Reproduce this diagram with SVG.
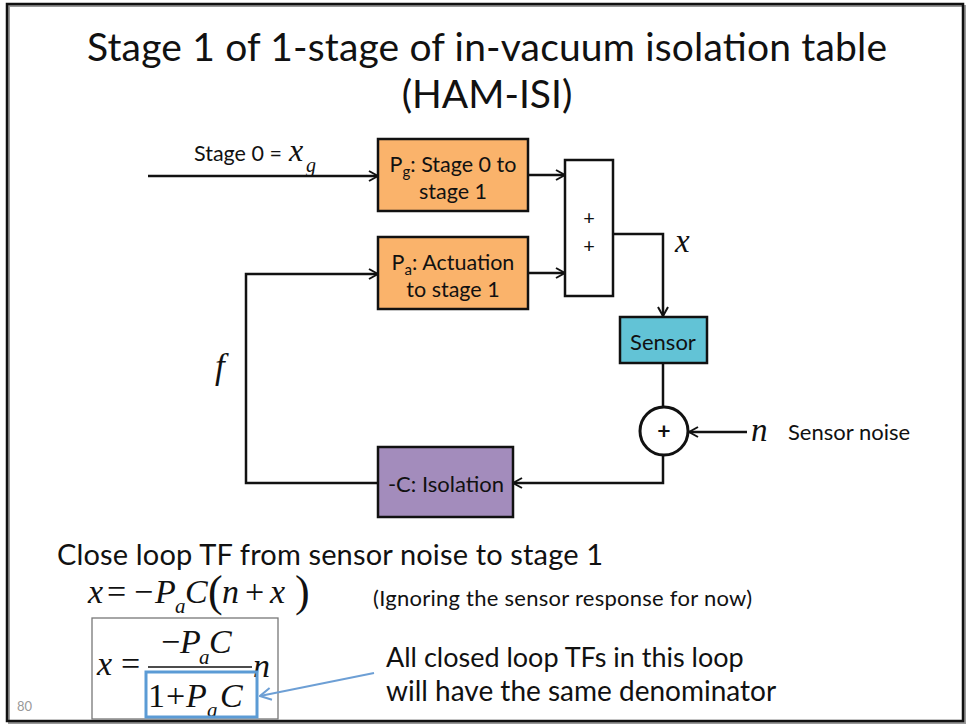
<svg xmlns="http://www.w3.org/2000/svg" width="967" height="725" viewBox="0 0 967 725">
  <style>
    .sans { font-family: Lato, "Open Sans", "Liberation Sans", sans-serif; fill: #111; }
    .math { font-family: "Liberation Serif", "DejaVu Serif", serif; font-style: italic; fill: #111; }
    .mathr { font-family: "Liberation Serif", "DejaVu Serif", serif; fill: #111; }
    .box { stroke: #111; stroke-width: 2.5; }
    .wire { fill: none; stroke: #111; stroke-width: 2.5; }
  </style>
  <defs>
    <marker id="arrow" viewBox="0 0 12 12" refX="11" refY="6" markerWidth="12" markerHeight="12" markerUnits="userSpaceOnUse" orient="auto">
      <path d="M2,1 L11,6 L2,11" fill="none" stroke="#111" stroke-width="2"/>
    </marker>
    <marker id="arrowBlue" viewBox="0 0 14 14" refX="13" refY="7" markerWidth="14" markerHeight="14" markerUnits="userSpaceOnUse" orient="auto">
      <path d="M2,1 L13,7 L2,13" fill="none" stroke="#6d9fd5" stroke-width="2"/>
    </marker>
  </defs>

  <!-- slide frame -->
  <rect x="0" y="0" width="967" height="725" fill="#fff"/>
  <rect x="9" y="6" width="956" height="717" fill="none" stroke="#999" stroke-width="2"/>
  <rect x="7" y="4" width="956" height="717" fill="none" stroke="#111" stroke-width="2.5"/>

  <!-- title -->
  <text class="sans" x="487" y="61" font-size="39" text-anchor="middle" textLength="800">Stage 1 of 1-stage of in-vacuum isolation table</text>
  <text class="sans" x="487" y="108" font-size="39" text-anchor="middle">(HAM-ISI)</text>

  <!-- connectors -->
  <g id="connectors">
    <line class="wire" x1="148" y1="176" x2="378" y2="176" marker-end="url(#arrow)"/>
    <line class="wire" x1="528" y1="175" x2="565" y2="175" marker-end="url(#arrow)"/>
    <line class="wire" x1="528" y1="273" x2="565" y2="273" marker-end="url(#arrow)"/>
    <polyline class="wire" points="613,234 663,234 663,316" marker-end="url(#arrow)"/>
    <line class="wire" x1="663" y1="363" x2="663" y2="407"/>
    <line class="wire" x1="747" y1="432" x2="689" y2="432" marker-end="url(#arrow)"/>
    <polyline class="wire" points="663,456 663,483 513,483" marker-end="url(#arrow)"/>
    <polyline class="wire" points="378,483 246,483 246,274 378,274" marker-end="url(#arrow)"/>
  </g>

  <!-- input label -->
  <g id="input-label">
    <text class="sans" x="194" y="161" font-size="21.5">Stage 0 =</text>
    <text class="math" x="289" y="161" font-size="32">x</text>
    <text class="math" x="306" y="172" font-size="20">g</text>
  </g>

  <g id="Pg">
    <rect class="box" x="378" y="139" width="150" height="72" fill="#fab36b"/>
    <text class="sans" x="453" y="172" font-size="21.5" text-anchor="middle">P<tspan font-size="15" dy="5">g</tspan><tspan dy="-5">: Stage 0 to</tspan></text>
    <text class="sans" x="453" y="199" font-size="21.5" text-anchor="middle">stage 1</text>
  </g>

  <g id="Pa">
    <rect class="box" x="378" y="237" width="150" height="72" fill="#fab36b"/>
    <text class="sans" x="453" y="270" font-size="21.5" text-anchor="middle">P<tspan font-size="15" dy="5">a</tspan><tspan dy="-5">: Actuation</tspan></text>
    <text class="sans" x="453" y="297" font-size="21.5" text-anchor="middle">to stage 1</text>
  </g>

  <g id="sum-block">
    <rect class="box" x="565" y="160" width="48" height="136" fill="#fff"/>
    <text class="sans" x="589" y="225" font-size="20" text-anchor="middle">+</text>
    <text class="sans" x="589" y="253" font-size="20" text-anchor="middle">+</text>
  </g>

  <text class="math" x="675" y="252" font-size="33">x</text>

  <g id="Sensor">
    <rect class="box" x="620" y="317" width="87" height="46" fill="#62c3d6"/>
    <text class="sans" x="663" y="350" font-size="22" text-anchor="middle">Sensor</text>
  </g>

  <g id="noise-sum">
    <circle cx="664" cy="431" r="24" fill="#fff" stroke="#111" stroke-width="3"/>
    <text class="sans" x="664" y="439" font-size="23" font-weight="bold" text-anchor="middle">+</text>
  </g>

  <g id="noise-label">
    <text class="math" x="751" y="441" font-size="33">n</text>
    <text class="sans" x="788" y="440" font-size="22">Sensor noise</text>
  </g>

  <g id="Isolation">
    <rect class="box" x="378" y="447" width="135" height="70" fill="#a38cbc"/>
    <text class="sans" x="446" y="492" font-size="22" text-anchor="middle">-C: Isolation</text>
  </g>

  <text class="math" x="215" y="378" font-size="35">f</text>

  <!-- equations -->
  <text class="sans" x="57" y="565" font-size="29" textLength="546">Close loop TF from sensor noise to stage 1</text>

  <g id="eq1">
    <text class="math" x="88" y="603" font-size="34">x</text>
    <text class="mathr" x="107" y="603" font-size="34">=</text>
    <text class="mathr" x="134" y="603" font-size="34">−</text>
    <text class="math" x="155" y="603" font-size="34">P</text>
    <text class="math" x="175" y="613" font-size="21">a</text>
    <text class="math" x="185" y="603" font-size="34">C</text>
    <text class="mathr" x="208" y="606" font-size="44">(</text>
    <text class="math" x="222" y="603" font-size="34">n</text>
    <text class="mathr" x="245" y="603" font-size="34">+</text>
    <text class="math" x="270" y="603" font-size="34">x</text>
    <text class="mathr" x="295" y="606" font-size="44">)</text>
  </g>

  <text class="sans" x="373" y="606" font-size="22" textLength="379">(Ignoring the sensor response for now)</text>

  <g id="eq2">
    <rect x="92" y="618" width="186" height="101" fill="none" stroke="#777" stroke-width="1.3"/>
    <text class="math" x="97" y="675" font-size="34">x</text>
    <text class="mathr" x="121" y="675" font-size="34">=</text>
    <text class="mathr" x="161" y="653" font-size="34">−</text>
    <text class="math" x="180" y="653" font-size="34">P</text>
    <text class="math" x="199" y="664" font-size="21">a</text>
    <text class="math" x="209" y="653" font-size="34">C</text>
    <line x1="148" y1="667" x2="252" y2="667" stroke="#111" stroke-width="1.5"/>
    <text class="math" x="253" y="677" font-size="34">n</text>
    <text class="mathr" x="148" y="707" font-size="34">1</text>
    <text class="mathr" x="166" y="707" font-size="34">+</text>
    <text class="math" x="186" y="707" font-size="34">P</text>
    <text class="math" x="207" y="717" font-size="21">a</text>
    <text class="math" x="220" y="707" font-size="34">C</text>
    <rect x="146" y="672" width="111" height="45" fill="none" stroke="#5b9bd5" stroke-width="3"/>
  </g>

  <g id="callout">
    <line x1="374" y1="673" x2="260" y2="696" stroke="#6d9fd5" stroke-width="2" marker-end="url(#arrowBlue)"/>
    <text class="sans" x="386" y="667" font-size="27">All closed loop TFs in this loop</text>
    <text class="sans" x="386" y="701" font-size="28">will have the same denominator</text>
  </g>

  <text x="17" y="711" font-family="Lato, 'Liberation Sans', sans-serif" font-size="13" fill="#999">80</text>
</svg>
